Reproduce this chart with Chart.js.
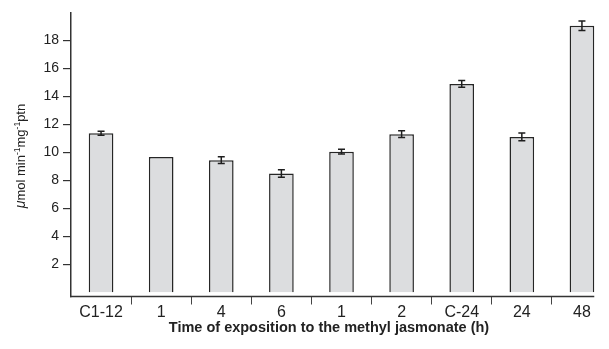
<!DOCTYPE html>
<html>
<head>
<meta charset="utf-8">
<script src="https://cdn.jsdelivr.net/npm/chart.js@4"></script>
<style>
html,body{margin:0;padding:0;background:#fff;overflow:hidden;width:609px;height:349px;}
#wrap{position:relative;width:614px;height:349px;}
</style>
</head>
<body>
<div id="wrap"><canvas id="c" width="614" height="349"></canvas></div>
<script>
const categories = ["C1-12", "1", "4", "6", "1", "2", "C-24", "24", "48"];
const values = [11.37, 9.66, 9.44, 8.49, 10.05, 11.3, 14.89, 11.1, 19.04];
const errors = [0.14, 0, 0.24, 0.27, 0.17, 0.24, 0.24, 0.28, 0.34];
const yTicks = [2, 4, 6, 8, 10, 12, 14, 16, 18];
const xTitle = "Time of exposition to the methyl jasmonate (h)";

const FONT = "'Liberation Sans', Arial, sans-serif";

const errorBars = {
  id: 'errorBars',
  afterDatasetsDraw(chart) {
    const meta = chart.getDatasetMeta(0);
    const ys = chart.scales.y;
    const ctx = chart.ctx;
    ctx.save();
    ctx.strokeStyle = '#1e1e1e';
    ctx.lineWidth = 1.5;
    meta.data.forEach((bar, i) => {
      const e = errors[i];
      if (!e) return;
      const x = bar.x;
      const yT = ys.getPixelForValue(values[i] + e);
      const yB = ys.getPixelForValue(values[i] - e);
      ctx.beginPath();
      ctx.moveTo(x, yT); ctx.lineTo(x, yB);
      ctx.moveTo(x - 3.5, yT); ctx.lineTo(x + 3.5, yT);
      ctx.moveTo(x - 3.5, yB); ctx.lineTo(x + 3.5, yB);
      ctx.stroke();
    });
    ctx.restore();
  }
};

const axisDecor = {
  id: 'axisDecor',
  afterDraw(chart) {
    const ctx = chart.ctx;
    const ca = chart.chartArea;
    const meta = chart.getDatasetMeta(0);
    const last = meta.data[meta.data.length - 1];
    ctx.save();
    ctx.strokeStyle = '#333';
    ctx.lineWidth = 1.5;
    ctx.beginPath();
    ctx.moveTo(ca.left - 1, ca.bottom);
    ctx.lineTo(last.x + last.width / 2, ca.bottom);
    ctx.stroke();
    ctx.fillStyle = '#222';
    ctx.font = 'bold 14.5px ' + FONT;
    ctx.textAlign = 'center';
    ctx.textBaseline = 'middle';
    ctx.fillText(xTitle, 329, 328);
    const parts = [
      {t: 'μ', f: 'italic 14px ' + FONT, dy: 0},
      {t: 'mol min', f: '13px ' + FONT, dy: 0},
      {t: '-1', f: '8.5px ' + FONT, dy: -5.5},
      {t: 'mg', f: '13px ' + FONT, dy: 0},
      {t: '-1', f: '8.5px ' + FONT, dy: -5.5},
      {t: 'ptn', f: '13px ' + FONT, dy: 0}
    ];
    let total = 0;
    parts.forEach(p => { ctx.font = p.f; p.w = ctx.measureText(p.t).width; total += p.w; });
    ctx.translate(25, 156);
    ctx.rotate(-Math.PI / 2);
    ctx.textAlign = 'left';
    ctx.textBaseline = 'alphabetic';
    let x = -total / 2;
    parts.forEach(p => { ctx.font = p.f; ctx.fillText(p.t, x, p.dy); x += p.w; });
    ctx.restore();
  }
};

new Chart(document.getElementById('c'), {
  type: 'bar',
  data: {
    labels: categories,
    datasets: [{
      data: values,
      backgroundColor: '#dcdddf',
      borderColor: '#262626',
      borderWidth: 1.5,
      barPercentage: 0.41,
      categoryPercentage: 1.0
    }]
  },
  options: {
    responsive: false,
    animation: false,
    devicePixelRatio: 1,
    layout: { padding: { top: 12, right: 2, left: 0, bottom: 0 } },
    plugins: { legend: { display: false }, tooltip: { enabled: false } },
    scales: {
      x: {
        offset: true,
        grid: {
          offset: true,
          drawOnChartArea: false,
          drawTicks: true,
          tickLength: 8,
          color: (c) => (c.index === 0 ? 'rgba(0,0,0,0)' : '#444'),
          lineWidth: 1
        },
        border: { display: false },
        ticks: { color: '#222', font: { family: FONT, size: 16 }, padding: -2, maxRotation: 0, autoSkip: false },
        afterFit(s) { s.height = 52.5; }
      },
      y: {
        min: -0.3,
        max: 20,
        afterBuildTicks(s) { s.ticks = yTicks.map(v => ({ value: v })); },
        grid: { drawOnChartArea: false, drawTicks: true, tickLength: 8, color: '#333', lineWidth: 1.2 },
        border: { display: true, color: '#333', width: 1.5 },
        ticks: { color: '#222', font: { family: FONT, size: 14 }, padding: 4 },
        afterFit(s) { s.width = 71; }
      }
    }
  },
  plugins: [errorBars, axisDecor]
});
</script>
</body>
</html>
